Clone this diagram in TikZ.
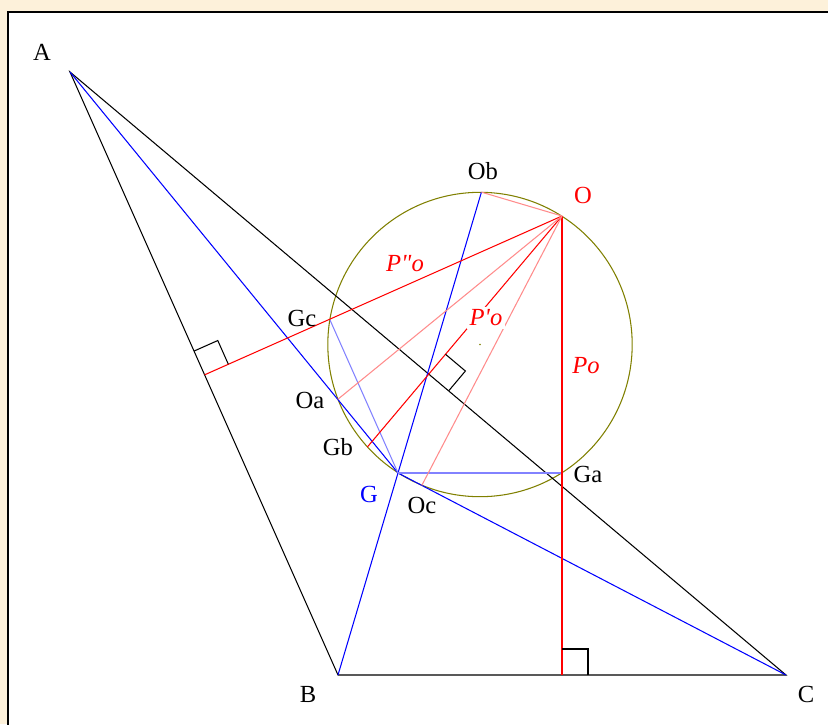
\documentclass[tikz,border=0pt]{standalone}
\usepackage{fontspec}
\setmainfont{Liberation Serif}
\usetikzlibrary{calc}

\definecolor{paper}{RGB}{253,241,218}
\definecolor{circlecol}{RGB}{128,128,0}
\definecolor{lightred}{RGB}{255,140,140}
\definecolor{lightblue}{RGB}{130,130,255}

\tikzset{
  lbl/.style={font=\fontsize{14}{16}\selectfont, inner sep=1pt},
  redlbl/.style={lbl, text=red, fill=white, inner sep=1.5pt, font=\fontsize{14}{16}\selectfont\itshape},
  thin line/.style={line width=0.6pt},
  rightmark/.style={thin line, black}
}

\newcommand{\perpmark}[3]{%
  \draw[rightmark] ($(#1)!0.52cm!(#2)$) -- ($(#1)!0.52cm!(#2) + (#1)!0.52cm!(#3) - (#1)$) -- ($(#1)!0.52cm!(#3)$);}

\begin{document}
\begin{tikzpicture}[x=0.02cm, y=-0.02cm]
    % Frame
    \fill[paper] (0,0) rectangle (828,724);
    \clip (0,0) rectangle (828,724);
    \draw[line width=1.3pt, fill=white] (8,12) rectangle (860,760);

    % Main points
    \coordinate (A) at (70,72);
    \coordinate (B) at (338,675);
    \coordinate (C) at (786,675);
    \coordinate (O) at (562,216);
    \coordinate (G) at (398,473);

    % Feet from O on the sides
    \coordinate (Po) at ($(B)!(O)!(C)$);
    \coordinate (Ppo) at ($(A)!(O)!(C)$);
    \coordinate (Pppo) at ($(A)!(O)!(B)$);

    % Feet from O on the lines through G
    \coordinate (Oa) at ($(A)!(O)!(G)$);
    \coordinate (Ob) at ($(B)!(O)!(G)$);
    \coordinate (Oc) at ($(C)!(O)!(G)$);

    % Feet from G on the lines through O
    \coordinate (Ga) at ($(O)!(G)!(Po)$);
    \coordinate (Gb) at ($(O)!(G)!(Ppo)$);
    \coordinate (Gc) at ($(O)!(G)!(Pppo)$);

    % Circle on diameter OG
    \coordinate (M) at ($(O)!0.5!(G)$);
    \draw[thin line, circlecol] let \p1 = ($(O)-(M)$), \n1 = {veclen(\x1,\y1)} in (M) circle (\n1);
    \fill[circlecol] (M) circle (0.5pt);

    % Triangle
    \draw[thin line] (A) -- (B) -- (C) -- cycle;

    % Lines through G
    \draw[thin line, blue] (A) -- (G) -- (C);
    \draw[thin line, blue] (B) -- (Ob);
    \draw[thin line, lightblue] (G) -- (Gc);
    \draw[thin line, lightblue] (G) -- (Ga);

    % Lines through O
    \draw[thin line, red] (O) -- (Po);
    \draw[thin line, red] (O) -- (Gb);
    \draw[thin line, red] (O) -- (Pppo);
    \draw[thin line, lightred] (O) -- (Ob);
    \draw[thin line, lightred] (O) -- (Oa);
    \draw[thin line, lightred] (O) -- (Oc);

    % Right angles
    \perpmark{Pppo}{A}{O}
    \perpmark{Ppo}{C}{O}
    \perpmark{Po}{C}{O}

    % Labels
    \node[lbl] (lA) at (42,52) {A};
    \node[lbl] (lB) at (308,694) {B};
    \node[lbl] (lC) at (806,694) {C};
    \node[lbl, text=red] (lO) at (583,195) {O};
    \node[lbl, text=blue] (lG) at (369,494) {G};
    \node[lbl] (lOa) at (310,400) {Oa};
    \node[lbl] (lOb) at (483,171) {Ob};
    \node[lbl] (lOc) at (422,505) {Oc};
    \node[lbl] (lGa) at (588,474) {Ga};
    \node[lbl] (lGb) at (338,447) {Gb};
    \node[lbl] (lGc) at (302,318) {Gc};
    \node[lbl, text=red, font=\fontsize{14}{16}\selectfont\itshape] (lPo) at (586,366) {Po};
    \node[redlbl] (lPpo) at (486,318) {P\textquotesingle o};
    \node[redlbl] (lPppo) at (405,264) {P\textquotedbl o};
\end{tikzpicture}
\end{document}
